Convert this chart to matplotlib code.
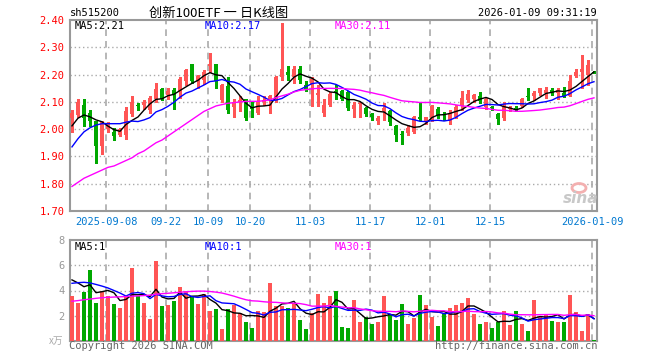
import numpy as np
import pandas as pd
import matplotlib
matplotlib.use("Agg")
import matplotlib.pyplot as plt
from matplotlib.patches import Ellipse

plt.rcParams['font.family'] = ['DejaVu Sans Mono']

# trading days (A-share calendar: National Day and New Year closed)
holidays = ['2025-10-01', '2025-10-02', '2025-10-03', '2025-10-06', '2025-10-07',
            '2025-10-08', '2026-01-01', '2026-01-02']
dates = [d for d in pd.bdate_range('2025-08-29', '2026-01-09')
         if d.strftime('%Y-%m-%d') not in holidays]

opens = [2.04, 2.05, 2.09, 2.06, 2.03, 1.94, 2.00, 1.99, 1.98, 1.98,
         2.055, 2.088, 2.088, 2.07, 2.11, 2.148, 2.125, 2.145, 2.135, 2.175,
         2.237, 2.175, 2.18, 2.23, 2.24, 2.105, 2.157, 2.08, 2.098, 2.11,
         2.08, 2.06, 2.10, 2.105, 2.11, 2.19, 2.21, 2.19, 2.222, 2.16,
         2.16, 2.125, 2.06, 2.09, 2.14, 2.14, 2.135, 2.073, 2.093, 2.078,
         2.057, 2.03, 2.068, 2.067, 2.013, 1.982, 1.987, 1.99, 2.043, 2.03,
         2.035, 2.075, 2.055, 2.03, 2.045, 2.09, 2.105, 2.11, 2.12, 2.08,
         2.08, 2.057, 2.04, 2.074, 2.078, 2.083, 2.121, 2.12, 2.132, 2.132,
         2.144, 2.132, 2.132, 2.122, 2.193, 2.21, 2.20, 2.21]
highs = [2.07, 2.11, 2.11, 2.07, 2.03, 2.03, 2.025, 2.005, 2.005, 2.08,
         2.12, 2.095, 2.105, 2.12, 2.17, 2.15, 2.15, 2.15, 2.19, 2.22,
         2.24, 2.20, 2.215, 2.28, 2.24, 2.165, 2.19, 2.11, 2.12, 2.11,
         2.10, 2.12, 2.12, 2.125, 2.195, 2.39, 2.23, 2.23, 2.23, 2.175,
         2.19, 2.16, 2.11, 2.135, 2.16, 2.145, 2.14, 2.10, 2.10, 2.08,
         2.06, 2.05, 2.095, 2.07, 2.015, 1.995, 2.015, 2.05, 2.10, 2.045,
         2.088, 2.08, 2.062, 2.07, 2.09, 2.14, 2.145, 2.13, 2.135, 2.115,
         2.085, 2.06, 2.10, 2.085, 2.085, 2.115, 2.15, 2.14, 2.152, 2.155,
         2.15, 2.15, 2.155, 2.20, 2.22, 2.27, 2.255, 2.212]
lows = [1.99, 2.045, 2.01, 2.01, 1.875, 1.91, 1.99, 1.96, 1.975, 1.965,
        2.05, 2.07, 2.075, 2.06, 2.10, 2.105, 2.11, 2.075, 2.115, 2.16,
        2.17, 2.15, 2.165, 2.21, 2.15, 2.10, 2.06, 2.045, 2.065, 2.035,
        2.045, 2.055, 2.09, 2.06, 2.10, 2.18, 2.18, 2.17, 2.17, 2.14,
        2.085, 2.085, 2.05, 2.085, 2.11, 2.105, 2.07, 2.045, 2.045, 2.05,
        2.035, 2.02, 2.035, 2.015, 1.955, 1.945, 1.98, 1.985, 2.035, 2.02,
        2.03, 2.04, 2.035, 2.018, 2.04, 2.07, 2.10, 2.10, 2.095, 2.075,
        2.07, 2.02, 2.035, 2.065, 2.065, 2.08, 2.105, 2.105, 2.125, 2.115,
        2.125, 2.11, 2.118, 2.12, 2.19, 2.15, 2.16, 2.205]
closes = [2.06, 2.10, 2.04, 2.03, 1.94, 2.025, 2.02, 1.975, 2.00, 2.065,
          2.10, 2.083, 2.10, 2.115, 2.148, 2.11, 2.14, 2.125, 2.185, 2.215,
          2.175, 2.195, 2.21, 2.24, 2.175, 2.16, 2.07, 2.10, 2.105, 2.04,
          2.075, 2.10, 2.105, 2.12, 2.19, 2.22, 2.20, 2.222, 2.18, 2.147,
          2.185, 2.132, 2.088, 2.13, 2.135, 2.11, 2.078, 2.088, 2.096, 2.056,
          2.045, 2.04, 2.077, 2.025, 1.98, 1.978, 2.005, 2.045, 2.037, 2.043,
          2.083, 2.052, 2.05, 2.06, 2.08, 2.115, 2.128, 2.124, 2.104, 2.11,
          2.077, 2.036, 2.085, 2.08, 2.075, 2.112, 2.118, 2.132, 2.149, 2.144,
          2.132, 2.144, 2.12, 2.177, 2.21, 2.222, 2.234, 2.207]
# volume, 万手
volume = [3.55, 3.04, 3.85, 5.65, 3.04, 3.95, 3.55, 2.9, 2.58, 3.49,
          5.8, 3.55, 2.98, 1.77, 6.37, 2.74, 2.82, 3.15, 4.27, 3.95,
          3.55, 2.9, 3.71, 2.34, 2.5, 0.97, 2.5, 2.82, 2.18, 1.53,
          1.05, 2.34, 2.26, 4.6, 2.74, 2.74, 2.58, 3.04, 1.69, 0.97,
          2.18, 3.71, 2.98, 3.55, 3.95, 1.13, 1.05, 3.23, 1.53, 1.94,
          1.37, 1.53, 3.55, 2.1, 1.69, 2.9, 1.37, 1.85, 3.63, 2.82,
          1.94, 1.21, 2.1, 2.58, 2.82, 2.98, 3.39, 2.1, 1.37, 1.53,
          1.05, 1.53, 2.34, 1.29, 2.34, 1.37, 0.81, 3.23, 1.94, 2.1,
          1.61, 1.53, 1.53, 3.63, 2.26, 0.81, 2.1, 0.08]

ma5_head = [2.012, 2.04, 2.052, 2.045]
ma10_head = [1.935, 1.965, 1.99, 2.005, 2.015, 2.02, 2.02, 2.02, 2.02]
ma30_head = [1.79, 1.805, 1.82, 1.83, 1.84, 1.85, 1.86, 1.865, 1.875, 1.885,
             1.895, 1.91, 1.92, 1.935, 1.95, 1.96, 1.975, 1.99, 2.005, 2.02,
             2.035, 2.05, 2.065, 2.075, 2.085, 2.09, 2.095, 2.097, 2.10]
vma5_head = [4.84, 4.6, 4.3, 4.45]
vma10_head = [4.57, 4.62, 4.65, 4.6, 4.48, 4.35, 4.2, 4.0, 3.8]
vma30_head = [3.15, 3.2, 3.27, 3.32, 3.38, 3.43, 3.46, 3.48, 3.5, 3.52,
              3.55, 3.57, 3.6, 3.63, 3.7, 3.75, 3.78, 3.82, 3.86, 3.9,
              3.93, 3.95, 3.95, 3.92, 3.87, 3.8, 3.68, 3.55, 3.4]

tick_dates = ['2025-09-08', '2025-09-22', '2025-10-09', '2025-10-20', '2025-11-03',
              '2025-11-17', '2025-12-01', '2025-12-15', '2026-01-09']
tick_text = ['2025-09-08', '09-22', '10-09', '10-20', '11-03',
             '11-17', '12-01', '12-15', '2026-01-09']


def ma(vals, n, head):
    out = []
    for i in range(len(vals)):
        if i < n - 1:
            out.append(head[i])
        else:
            out.append(np.mean(vals[i - n + 1:i + 1]))
    return out


RED = '#ff5555'
GREEN = '#00a800'
GRID = '#aaaaaa'
W, H = 660, 360

fig = plt.figure(figsize=(6.6, 3.6), dpi=100)
fig.patch.set_facecolor('white')
ax1 = fig.add_axes([70 / W, 1 - 211 / H, 527 / W, 191 / H])
ax2 = fig.add_axes([70 / W, 1 - 341 / H, 527 / W, 101 / H])

x = np.arange(len(closes))
date_str = [d.strftime('%Y-%m-%d') for d in dates]
tick_pos = [date_str.index(t) - 0.33 for t in tick_dates]
up = [c >= o for o, c in zip(opens, closes)]
cols = [RED if u else GREEN for u in up]

# candles
ax1.vlines(x, lows, highs, colors=cols, linewidth=1, zorder=3, antialiased=False)
bottoms = [min(o, c) for o, c in zip(opens, closes)]
heights = [max(abs(c - o), 0.003) for o, c in zip(opens, closes)]
ax1.bar(x, heights, bottom=bottoms, width=0.8, color=cols, linewidth=0, zorder=4,
        antialiased=False)

ax1.plot(x, ma(closes, 5, ma5_head), color='black', lw=1, zorder=5)
ax1.plot(x, ma(closes, 10, ma10_head), color='#0000ff', lw=1, zorder=5)
ax1.plot(x, ma(closes, 30, ma30_head), color='#ff00ff', lw=1, zorder=5)

ax2.bar(x, volume, width=0.8, color=cols, linewidth=0, zorder=3, antialiased=False)
ax2.plot(x, ma(volume, 5, vma5_head), color='black', lw=1, zorder=5)
ax2.plot(x, ma(volume, 10, vma10_head), color='#0000ff', lw=1, zorder=5)
ax2.plot(x, ma(volume, 30, vma30_head), color='#ff00ff', lw=1, zorder=5)

for ax in (ax1, ax2):
    ax.set_xlim(-0.33, 87.5)
    for sp in ax.spines.values():
        sp.set_color('#999999')
        sp.set_linewidth(1.5)
    for tp in tick_pos:
        ax.axvline(tp, color=GRID, lw=1.2, dashes=(4, 3), zorder=1)

ax1.set_ylim(1.70, 2.40)
levels = [1.70, 1.80, 1.90, 2.00, 2.10, 2.20, 2.30, 2.40]
for lv in levels[1:-1]:
    ax1.axhline(lv, color=GRID, lw=1, dashes=(1, 2), zorder=1)
ax1.set_yticks(levels)
ax1.set_yticklabels(['%.2f' % v for v in levels])
ax1.tick_params(axis='y', length=0, pad=4, labelcolor='#ff0000', labelsize=7.5)
ax1.set_xticks(tick_pos)
ax1.set_xticklabels(tick_text)
ax1.tick_params(axis='x', length=0, pad=4, labelcolor='#0078d0', labelsize=7.5)

ax2.set_ylim(0, 8)
for lv in [2, 4, 6]:
    ax2.axhline(lv, color=GRID, lw=1, dashes=(1, 2), zorder=1)
ax2.set_yticks([2, 4, 6, 8])
ax2.tick_params(axis='y', length=0, pad=4, labelcolor='#999999', labelsize=7.5)
ax2.set_xticks([])


def ftext(px, py, s, **kw):
    fig.text(px / W, 1 - py / H, s, va='center', **kw)


ftext(70, 13, 'sh515200', fontsize=7.5, color='black')
ftext(219, 13, '创新100ETF 一 日K线图', fontsize=9.5, color='black', ha='center',
      family=['Noto Sans CJK SC', 'DejaVu Sans'])
ftext(597, 13, '2026-01-09 09:31:19', fontsize=7.5, color='black', ha='right')

ftext(75, 26, 'MA5:2.21', fontsize=7.5, color='black')
ftext(205, 26, 'MA10:2.17', fontsize=7.5, color='#0000ff')
ftext(335, 26, 'MA30:2.11', fontsize=7.5, color='#ff00ff')
ftext(75, 247, 'MA5:1', fontsize=7.5, color='black')
ftext(205, 247, 'MA10:1', fontsize=7.5, color='#0000ff')
ftext(335, 247, 'MA30:1', fontsize=7.5, color='#ff00ff')

ftext(63, 341, 'x万', fontsize=7, color='#aaaaaa', ha='right',
      family=['Noto Sans CJK SC', 'DejaVu Sans'])
ftext(69, 346, 'Copyright 2026 SINA.COM', fontsize=7.5, color='#666666')
ftext(597, 346, 'http://finance.sina.com.cn', fontsize=7.5, color='#666666', ha='right')

# sina watermark
logo = Ellipse((579 / W, 1 - 188 / H), 14 / W, 9 / H, transform=fig.transFigure,
               facecolor='none', edgecolor='#f3b0b0', lw=2)
fig.patches.append(logo)
ftext(581, 198, 'sina', fontsize=11, color='#c8c8c8', ha='center',
      style='italic', weight='bold', family='DejaVu Sans')

fig.savefig('out.png', dpi=100)
